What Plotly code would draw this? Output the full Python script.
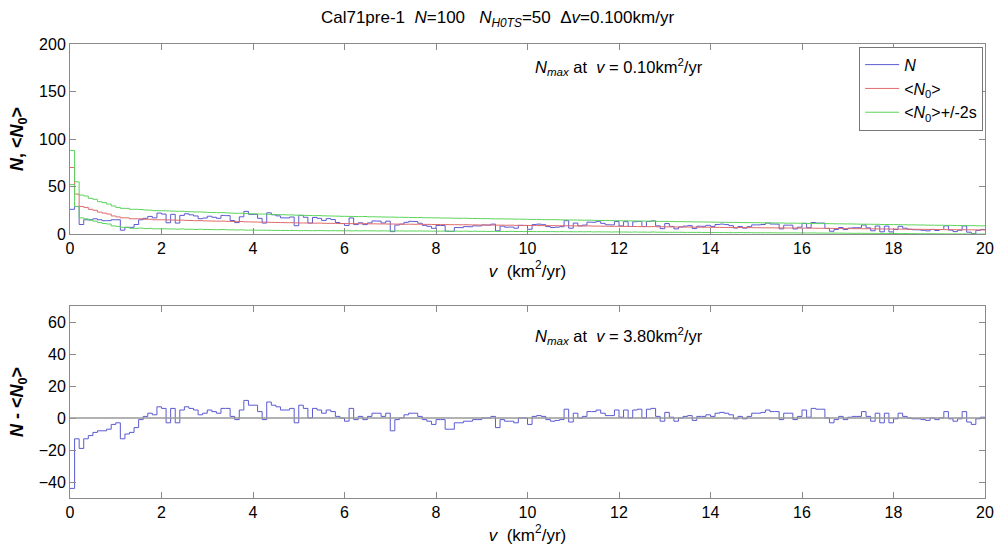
import numpy as np
import plotly.graph_objects as go
from plotly.subplots import make_subplots

dv = 0.1  # bin width (km^2/yr)

# expected counts <N0> per bin (200 bins, 0..20)
n0 = [70, 42, 29, 28, 26, 25, 23, 22, 21, 19,
      18, 17, 17, 16, 16, 16, 15.5, 15.5, 15, 15,
      15, 14.8, 14.7, 14.5, 14.6, 14.3, 14.2, 14, 14.1, 13.8,
      13.7, 13.6, 13.5, 13.6, 13.3, 13.2, 13, 13.1, 12.8, 12.7,
      12.6, 12.5, 12.5, 12.3, 12.2, 12.1, 12, 11.9, 11.9, 11.7,
      11.6, 11.6, 11.5, 11.4, 11.5, 11.3, 11.2, 11.2, 11.1, 11,
      11, 10.9, 10.9, 10.8, 10.9, 10.7, 10.7, 10.6, 10.6, 10.5,
      10.5, 10.4, 10.4, 10.3, 10.3, 10.2, 10.3, 10.1, 10.1, 10,
      10, 9.9, 9.9, 9.8, 9.8, 9.7, 9.8, 9.6, 9.6, 9.5,
      9.5, 9.4, 9.4, 9.3, 9.3, 9.2, 9.3, 9.1, 9.1, 9,
      9, 8.9, 8.9, 8.8, 8.8, 8.8, 8.7, 8.7, 8.6, 8.6,
      8.5, 8.5, 8.4, 8.5, 8.3, 8.3, 8.2, 8.2, 8.1, 8.1,
      8, 8, 7.9, 7.9, 7.8, 7.8, 7.7, 7.8, 7.6, 7.6,
      7.5, 7.5, 7.4, 7.4, 7.3, 7.3, 7.2, 7.2, 7.1, 7.1,
      7, 7, 6.9, 6.9, 6.8, 6.8, 6.8, 6.7, 6.7, 6.6,
      6.6, 6.5, 6.5, 6.5, 6.4, 6.4, 6.3, 6.3, 6.3, 6.2,
      6.2, 6.1, 6.1, 6.0, 6.0, 5.9, 5.9, 5.8, 5.8, 5.7,
      5.7, 5.6, 5.6, 5.5, 5.5, 5.4, 5.4, 5.3, 5.3, 5.2,
      5.2, 5.1, 5.1, 5.0, 5.0, 4.9, 4.9, 4.8, 4.8, 4.7,
      4.7, 4.6, 4.6, 4.5, 4.5, 4.5, 4.4, 4.4, 4.3, 4.3]

# two standard deviations of the expected counts per bin
two_s = [18, 13, 12, 12, 11.5, 11.5, 11, 11, 10.5, 10.5,
         10, 10, 10, 10, 10, 9.8, 9.8, 9.6, 9.6, 9.5,
         9.5, 9.5, 9.4, 9.4, 9.3, 9.3, 9.2, 9.2, 9.1, 9.1,
         9, 9, 9, 8.9, 8.9, 8.8, 8.8, 8.7, 8.7, 8.6,
         8.6, 8.5, 8.5, 8.4, 8.4, 8.3, 8.3, 8.2, 8.2, 8.1,
         8.1, 8, 8, 7.9, 7.9, 7.8, 7.8, 7.7, 7.7, 7.6,
         7.6, 7.6, 7.5, 7.5, 7.5, 7.4, 7.4, 7.4, 7.3, 7.3,
         7.3, 7.2, 7.2, 7.2, 7.1, 7.1, 7.1, 7, 7, 7,
         7, 6.9, 6.9, 6.9, 6.8, 6.8, 6.8, 6.8, 6.7, 6.7,
         6.7, 6.7, 6.6, 6.6, 6.6, 6.6, 6.5, 6.5, 6.5, 6.5,
         6.4, 6.4, 6.4, 6.3, 6.3, 6.3, 6.3, 6.2, 6.2, 6.2,
         6.2, 6.1, 6.1, 6.1, 6.1, 6.0, 6.0, 6.0, 6.0, 5.9,
         5.9, 5.9, 5.9, 5.8, 5.8, 5.8, 5.8, 5.7, 5.7, 5.7,
         5.7, 5.7, 5.6, 5.6, 5.6, 5.6, 5.5, 5.5, 5.5, 5.5,
         5.5, 5.4, 5.4, 5.4, 5.4, 5.4, 5.3, 5.3, 5.3, 5.3,
         5.3, 5.2, 5.2, 5.2, 5.2, 5.2, 5.1, 5.1, 5.1, 5.1,
         5.1, 5.0, 5.0, 5.0, 5.0, 5.0, 4.9, 4.9, 4.9, 4.9,
         4.9, 4.9, 4.8, 4.8, 4.8, 4.8, 4.8, 4.7, 4.7, 4.7,
         4.7, 4.7, 4.6, 4.6, 4.6, 4.6, 4.6, 4.5, 4.5, 4.5,
         4.5, 4.5, 4.5, 4.4, 4.4, 4.4, 4.4, 4.4, 4.3, 4.3]

# observed minus expected, N - <N0>, per bin
diff = [-44, -13, -19, -13, -11, -9, -8, -8, -7, -4,
        -3, -13, -10, -9, -6, -1, 1, 3, 2, 7,
        6, -3, 6, -3, 5, 7, 6, 5, 2, 3,
        5, 4, 3, 6, 6, 1, -1, 5, 11, 8,
        8, 4, -1, 10, 8, 7, 5, 5, 6, -3,
        8, 6, 0, 6, 5, 3, 5, 4, 1, 0,
        -2, 6, -1, 1, -1, 1, 3, 3, 1, 3,
        -8, -1, 0, 2, 3, 3, 1, -1, -2, -4,
        -1, -1, -7, -7, -3, -3, -2, -2, -1, -1,
        0, 0, 1, -6, -1, -2, -2, -3, 0, 0,
        -4, 1, 1.5, 1, -1, -2, -1.5, -1, 5.5, -2.5,
        3, 0, 1, 4, 4, 5, 3, 1.5, 1.5, 5,
        0.5, 5, 0, 5, 5.5, 0, 5.5, 6, 1, -2,
        3.5, 0.5, -2, 0, 1, 1.5, -1.5, 1, 1, 2,
        1, 3, 3.5, 3, 2, -0.5, 1, -0.5, 1, 3,
        3, 3.5, 5, 4, 4, -1, 3, 3, -1, 1,
        5, 0.5, 6, 5.5, 5.5, 0, -3, -1, 1, -1,
        0.5, 1, 1, 4, 1, -2, 3, -3, 3, -3,
        -0.5, 3, 1, 0, -0.5, -0.5, -1, -1.5, 0, -1,
        0, 4, -0.5, -2, -0.5, 4, -2.5, -4, -0.5, 0.5]

n0 = np.array(n0, dtype=float)
two_s = np.array(two_s, dtype=float)
diff = np.array(diff, dtype=float)
n_obs = n0 + diff
hi = n0 + two_s
lo = np.clip(n0 - two_s, 0, None)

edges = np.round(np.arange(len(n0) + 1) * dv, 4)


def stairs(vals):
    return edges, np.append(vals, vals[-1])


FONT = "Liberation Sans, Arial, sans-serif"
BLUE = "#5a5ad2"
RED = "#e06a6a"
GREEN = "#5cd45c"

fig = make_subplots(rows=2, cols=1, vertical_spacing=0.0)

x, y = stairs(n_obs)
fig.add_trace(go.Scatter(x=x, y=y, mode="lines", line=dict(color=BLUE, width=1, shape="hv"),
                         name="<i>N</i>"), row=1, col=1)
x, y = stairs(n0)
fig.add_trace(go.Scatter(x=x, y=y, mode="lines", line=dict(color=RED, width=1, shape="hv"),
                         name="&lt;<i>N</i><sub>0</sub>&gt;"), row=1, col=1)
x, y = stairs(hi)
fig.add_trace(go.Scatter(x=x, y=y, mode="lines", line=dict(color=GREEN, width=1, shape="hv"),
                         name="&lt;<i>N</i><sub>0</sub>&gt;+/-2s", legendgroup="band"), row=1, col=1)
x, y = stairs(lo)
fig.add_trace(go.Scatter(x=x, y=y, mode="lines", line=dict(color=GREEN, width=1, shape="hv"),
                         name="lo", legendgroup="band", showlegend=False), row=1, col=1)

x, y = stairs(diff)
fig.add_trace(go.Scatter(x=x, y=y, mode="lines", line=dict(color=BLUE, width=1, shape="hv"),
                         showlegend=False), row=2, col=1)
fig.add_hline(y=0, line=dict(color="#999999", width=1.5), row=2, col=1)

axis_common = dict(showline=True, linecolor="#8a8a8a", linewidth=1, mirror="ticks",
                   ticks="inside", ticklen=6, tickcolor="#8a8a8a", showgrid=False,
                   zeroline=False, automargin=False,
                   tickfont=dict(family=FONT, size=16, color="black"))

xt = "<i>v</i>\u00a0\u00a0(km<sup>2</sup>/yr)"
fig.update_xaxes(range=[0, 20], dtick=2, **axis_common)
fig.update_xaxes(domain=[0, 1], title=dict(text=xt, font=dict(family=FONT, size=17, color="black"), standoff=8), row=1, col=1)
fig.update_xaxes(title=dict(text=xt, font=dict(family=FONT, size=17, color="black"), standoff=8), row=2, col=1)

fig.update_yaxes(**axis_common)
fig.update_yaxes(range=[0, 200], tickvals=[0, 50, 100, 150, 200], domain=[0.5815, 1.0],
                 title=dict(text="<b><i>N</i>, &lt;<i>N</i><sub>0</sub>&gt;</b>",
                            font=dict(family=FONT, size=18, color="black"), standoff=10),
                 row=1, col=1)
fig.update_yaxes(range=[-50, 70], tickvals=[-40, -20, 0, 20, 40, 60], domain=[0.0, 0.4229],
                 title=dict(text="<b><i>N</i> - &lt;<i>N</i><sub>0</sub>&gt;</b>",
                            font=dict(family=FONT, size=18, color="black"), standoff=10),
                 row=2, col=1)

fig.add_annotation(text="<i>N<sub>max</sub></i> at\u00a0\u00a0<i>v</i> = 0.10km<sup>2</sup>/yr",
                   xref="x", yref="y", x=12.0, y=176, showarrow=False,
                   font=dict(family=FONT, size=16.5, color="black"))
fig.add_annotation(text="<i>N<sub>max</sub></i> at\u00a0\u00a0<i>v</i> = 3.80km<sup>2</sup>/yr",
                   xref="x2", yref="y2", x=12.0, y=51, showarrow=False,
                   font=dict(family=FONT, size=16.5, color="black"))

fig.update_layout(
    width=995, height=546,
    margin=dict(l=70, r=10, t=44, b=48, autoexpand=False),
    paper_bgcolor="white", plot_bgcolor="white",
    title=dict(text="Cal71pre-1\u00a0\u00a0<i>N</i>=100\u00a0\u00a0\u00a0<i>N<sub>H0TS</sub></i>=50\u00a0\u00a0\u0394<i>v</i>=0.100km/yr",
               x=0.5, xanchor="center", y=0.968, yanchor="middle",
               font=dict(family=FONT, size=17, color="black")),
    legend=dict(x=0.998, xanchor="right", y=0.994, yanchor="top", bgcolor="white",
                bordercolor="#777777", borderwidth=1, font=dict(family=FONT, size=16, color="black"),
                tracegroupgap=0, itemwidth=34),
    showlegend=True,
)

fig.write_html("out.html")
